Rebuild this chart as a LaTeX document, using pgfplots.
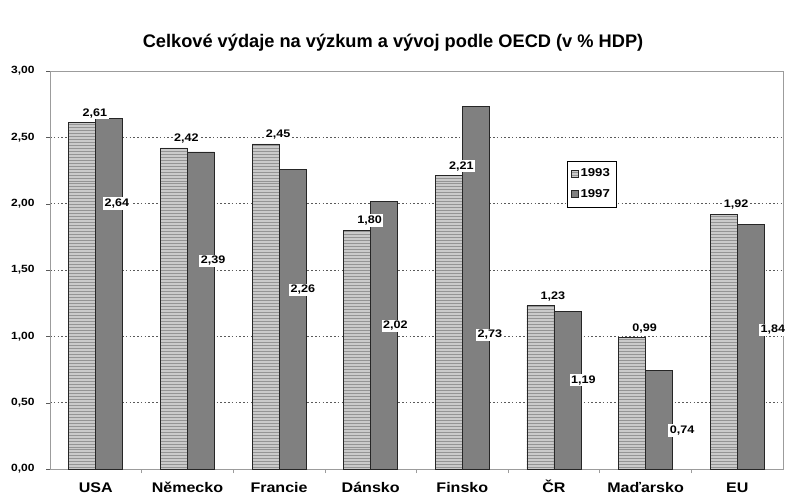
\documentclass[border=0pt]{standalone}
\usepackage{pgfplots}
\usepackage{pgfplotstable}
\pgfplotsset{compat=1.18}
\usepackage{fontspec}
\setmainfont{Liberation Sans}
\newfontfamily\wide{Liberation Sans}[FakeStretch=1.15]
\usetikzlibrary{patterns}

\definecolor{barlight}{HTML}{CACACA}
\definecolor{barstripe}{HTML}{949494}
\definecolor{bardark}{HTML}{808080}
\definecolor{gridc}{HTML}{5A5A5A}
\definecolor{framec}{HTML}{9C9C9C}

% vydaje na VaV v % HDP, 1993 a 1997
\pgfplotstableread{
idx y93 y97
0 2.61 2.64
1 2.42 2.39
2 2.45 2.26
3 1.80 2.02
4 2.21 2.73
5 1.23 1.19
6 0.99 0.74
7 1.92 1.84
}\vyzkum

% kde stoji popisky hodnot 1997 (x, y, hodnota)
\pgfplotstableread{
lx ly val
0.23 2.00 2.64
1.28 1.57 2.39
2.26 1.35 2.26
3.27 1.08 2.02
4.30 1.01 2.73
5.32 0.67 1.19
6.40 0.29 0.74
7.39 1.05 1.84
}\popisky

\begin{document}
\begin{tikzpicture}
\begin{axis}[
  name=ax,
  scale only axis,
  width=733bp, height=398bp,
  xmin=-0.5, xmax=7.5,
  ymin=0, ymax=3,
  axis line style={color=framec, line width=0.8pt},
  xtick={0,...,7},
  xticklabels={USA, Německo, Francie, Dánsko, Finsko, ČR, Maďarsko, EU},
  major x tick style={draw=none},
  minor xtick={0.5,1.5,...,6.5},
  minor x tick style={color=framec, line width=0.6pt},
  minor tick length=4bp,
  ytick={0,0.5,...,3},
  major y tick style={color=gridc},
  major tick length=4bp,
  tick align=outside,
  xtick pos=bottom, ytick pos=left,
  xticklabel style={font=\fontsize{14}{16}\selectfont\wide\bfseries,
    text height=10bp, text depth=3bp, yshift=-6bp},
  yticklabel style={font=\fontsize{10.5}{12}\selectfont\wide\bfseries, xshift=-8bp},
  /pgf/number format/.cd, use comma, fixed, fixed zerofill, precision=2,
  assume math mode=true,
  /pgfplots/.cd,
  ymajorgrids,
  major grid style={color=gridc, line width=0.8pt, dash pattern=on 1.6pt off 2.2pt},
  title={Celkové výdaje na výzkum a vývoj podle OECD (v \% HDP)},
  title style={at={(0.468,1)}, anchor=center, yshift=22bp,
    font=\fontsize{18.3}{20}\selectfont\bfseries},
  legend style={at={(0.705,0.775)}, anchor=north west, draw=black,
    line width=0.6pt, font=\fontsize{11.5}{13}\selectfont\wide\bfseries,
    inner xsep=4bp, inner ysep=6bp, row sep=7bp},
  legend image code/.code={
    \draw[#1, line width=0.5pt] (0bp,-3.5bp) rectangle (7bp,3.5bp);},
  every node near coord/.append style={
    font=\fontsize{11}{13}\selectfont\wide\bfseries, fill=white, inner sep=1.5pt},
]
\addplot[ybar, bar width=0.295, bar shift=-0.1475,
  draw=black!85, line width=0.8pt, fill=barlight,
  postaction={pattern=horizontal lines, pattern color=barstripe},
  nodes near coords,
  nodes near coords style={anchor=south, yshift=3bp, xshift=-1bp}]
  table[x=idx, y=y93] {\vyzkum};
\addlegendentry{1993}
\addplot[ybar, bar width=0.295, bar shift=0.1475,
  draw=black!85, line width=0.8pt, fill=bardark]
  table[x=idx, y=y97] {\vyzkum};
\addlegendentry{1997}
\addplot[forget plot, draw=none, mark=none,
  nodes near coords, point meta=explicit,
  nodes near coords style={anchor=center}]
  table[x=lx, y=ly, meta=val] {\popisky};
\end{axis}
\pgfresetboundingbox
\path[use as bounding box]
  ([shift={(-50bp,-32bp)}]ax.south west) rectangle
  ([shift={(9bp,71bp)}]ax.north east);
\end{tikzpicture}
\end{document}
